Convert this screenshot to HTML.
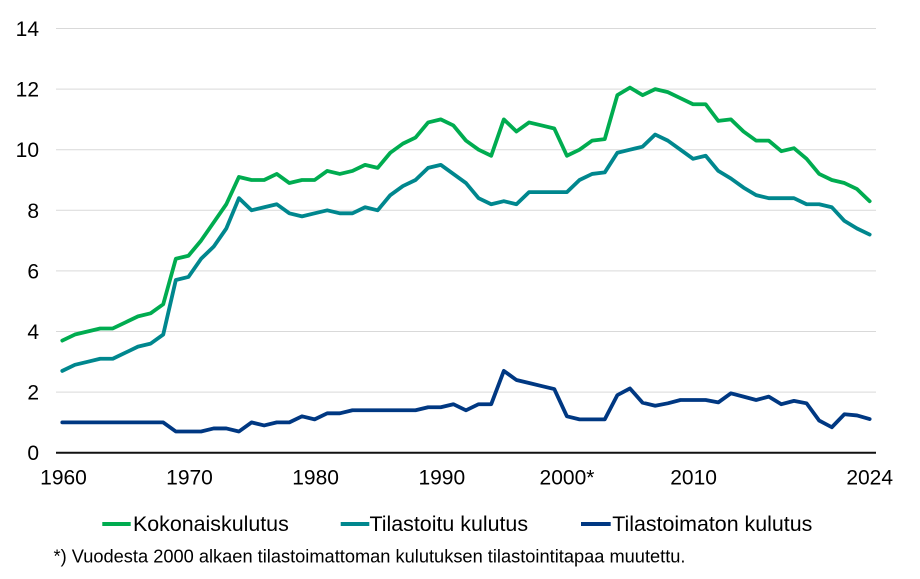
<!DOCTYPE html>
<html>
<head>
<meta charset="utf-8">
<style>
  html, body { margin: 0; padding: 0; background: #ffffff; }
  svg { display: block; }
  text { font-family: "Liberation Sans", Arial, sans-serif; fill: #000; }
</style>
</head>
<body>
<svg width="920" height="579" viewBox="0 0 920 579" xmlns="http://www.w3.org/2000/svg">
  <rect x="0" y="0" width="920" height="579" fill="#ffffff"/>

  <!-- gridlines -->
  <g stroke="#D9D9D9" stroke-width="1">
    <line x1="56" y1="392.1" x2="876" y2="392.1"/>
    <line x1="56" y1="331.5" x2="876" y2="331.5"/>
    <line x1="56" y1="270.9" x2="876" y2="270.9"/>
    <line x1="56" y1="210.3" x2="876" y2="210.3"/>
    <line x1="56" y1="149.7" x2="876" y2="149.7"/>
    <line x1="56" y1="89.1" x2="876" y2="89.1"/>
    <line x1="56" y1="28.5" x2="876" y2="28.5"/>
  </g>

  <!-- y labels -->
  <g font-size="21" text-anchor="end">
    <text x="39" y="460.2">0</text>
    <text x="39" y="399.6">2</text>
    <text x="39" y="339">4</text>
    <text x="39" y="278.4">6</text>
    <text x="39" y="217.8">8</text>
    <text x="39" y="157.2">10</text>
    <text x="39" y="96.6">12</text>
    <text x="39" y="36">14</text>
  </g>

  <!-- series -->
  <g transform="translate(62.3,452.7) scale(12.615,-30.3)" fill="none" stroke-linejoin="round" stroke-linecap="round">
    <polyline vector-effect="non-scaling-stroke" stroke="#00AC50" stroke-width="3.8"
      points="0,3.7 1,3.9 2,4.0 3,4.1 4,4.1 5,4.3 6,4.5 7,4.6 8,4.9 9,6.4 10,6.5 11,7.0 12,7.6 13,8.2 14,9.1 15,9.0 16,9.0 17,9.2 18,8.9 19,9.0 20,9.0 21,9.3 22,9.2 23,9.3 24,9.5 25,9.4 26,9.9 27,10.2 28,10.4 29,10.9 30,11.0 31,10.8 32,10.3 33,10.0 34,9.8 35,11.0 36,10.6 37,10.9 38,10.8 39,10.7 40,9.8 41,10.0 42,10.3 43,10.35 44,11.8 45,12.05 46,11.8 47,12.0 48,11.9 49,11.7 50,11.5 51,11.5 52,10.95 53,11.0 54,10.6 55,10.3 56,10.3 57,9.95 58,10.05 59,9.7 60,9.2 61,9.0 62,8.9 63,8.7 64,8.3"/>
    <polyline vector-effect="non-scaling-stroke" stroke="#00878E" stroke-width="3.8"
      points="0,2.7 1,2.9 2,3.0 3,3.1 4,3.1 5,3.3 6,3.5 7,3.6 8,3.9 9,5.7 10,5.8 11,6.4 12,6.8 13,7.4 14,8.4 15,8.0 16,8.1 17,8.2 18,7.9 19,7.8 20,7.9 21,8.0 22,7.9 23,7.9 24,8.1 25,8.0 26,8.5 27,8.8 28,9.0 29,9.4 30,9.5 31,9.2 32,8.9 33,8.4 34,8.2 35,8.3 36,8.2 37,8.6 38,8.6 39,8.6 40,8.6 41,9.0 42,9.2 43,9.25 44,9.9 45,10.0 46,10.1 47,10.5 48,10.3 49,10.0 50,9.7 51,9.8 52,9.3 53,9.05 54,8.75 55,8.5 56,8.4 57,8.4 58,8.4 59,8.2 60,8.2 61,8.1 62,7.65 63,7.4 64,7.2"/>
    <polyline vector-effect="non-scaling-stroke" stroke="#003882" stroke-width="3.8"
      points="0,1.0 1,1.0 2,1.0 3,1.0 4,1.0 5,1.0 6,1.0 7,1.0 8,1.0 9,0.7 10,0.7 11,0.7 12,0.8 13,0.8 14,0.7 15,1.0 16,0.9 17,1.0 18,1.0 19,1.2 20,1.1 21,1.3 22,1.3 23,1.4 24,1.4 25,1.4 26,1.4 27,1.4 28,1.4 29,1.5 30,1.5 31,1.6 32,1.4 33,1.6 34,1.6 35,2.7 36,2.4 37,2.3 38,2.2 39,2.1 40,1.2 41,1.1 42,1.1 43,1.1 44,1.9 45,2.12 46,1.65 47,1.55 48,1.63 49,1.74 50,1.74 51,1.74 52,1.66 53,1.96 54,1.85 55,1.74 56,1.85 57,1.6 58,1.71 59,1.63 60,1.06 61,0.84 62,1.27 63,1.23 64,1.11"/>
  </g>

  <!-- x axis -->
  <line x1="56" y1="452.7" x2="876" y2="452.7" stroke="#111" stroke-width="2"/>

  <!-- x labels -->
  <g font-size="21" text-anchor="middle">
    <text x="63.5" y="484.3">1960</text>
    <text x="189.5" y="484.3">1970</text>
    <text x="315.6" y="484.3">1980</text>
    <text x="441.8" y="484.3">1990</text>
    <text x="567" y="484.3">2000*</text>
    <text x="693.6" y="484.3">2010</text>
    <text x="869.7" y="484.3">2024</text>
  </g>

  <!-- legend -->
  <g stroke-width="4" stroke-linecap="butt">
    <line x1="102.3" y1="524" x2="130.7" y2="524" stroke="#00AC50"/>
    <line x1="340.7" y1="524" x2="369.3" y2="524" stroke="#00878E"/>
    <line x1="581" y1="524" x2="610.7" y2="524" stroke="#003882"/>
  </g>
  <g font-size="21.4">
    <text x="133" y="531.2">Kokonaiskulutus</text>
    <text x="369.5" y="531.2">Tilastoitu kulutus</text>
    <text x="612.2" y="531.2">Tilastoimaton kulutus</text>
  </g>

  <!-- footnote -->
  <text x="53.5" y="562.7" font-size="18.3" textLength="632" lengthAdjust="spacingAndGlyphs">*) Vuodesta 2000 alkaen tilastoimattoman kulutuksen tilastointitapaa muutettu.</text>
</svg>
</body>
</html>
